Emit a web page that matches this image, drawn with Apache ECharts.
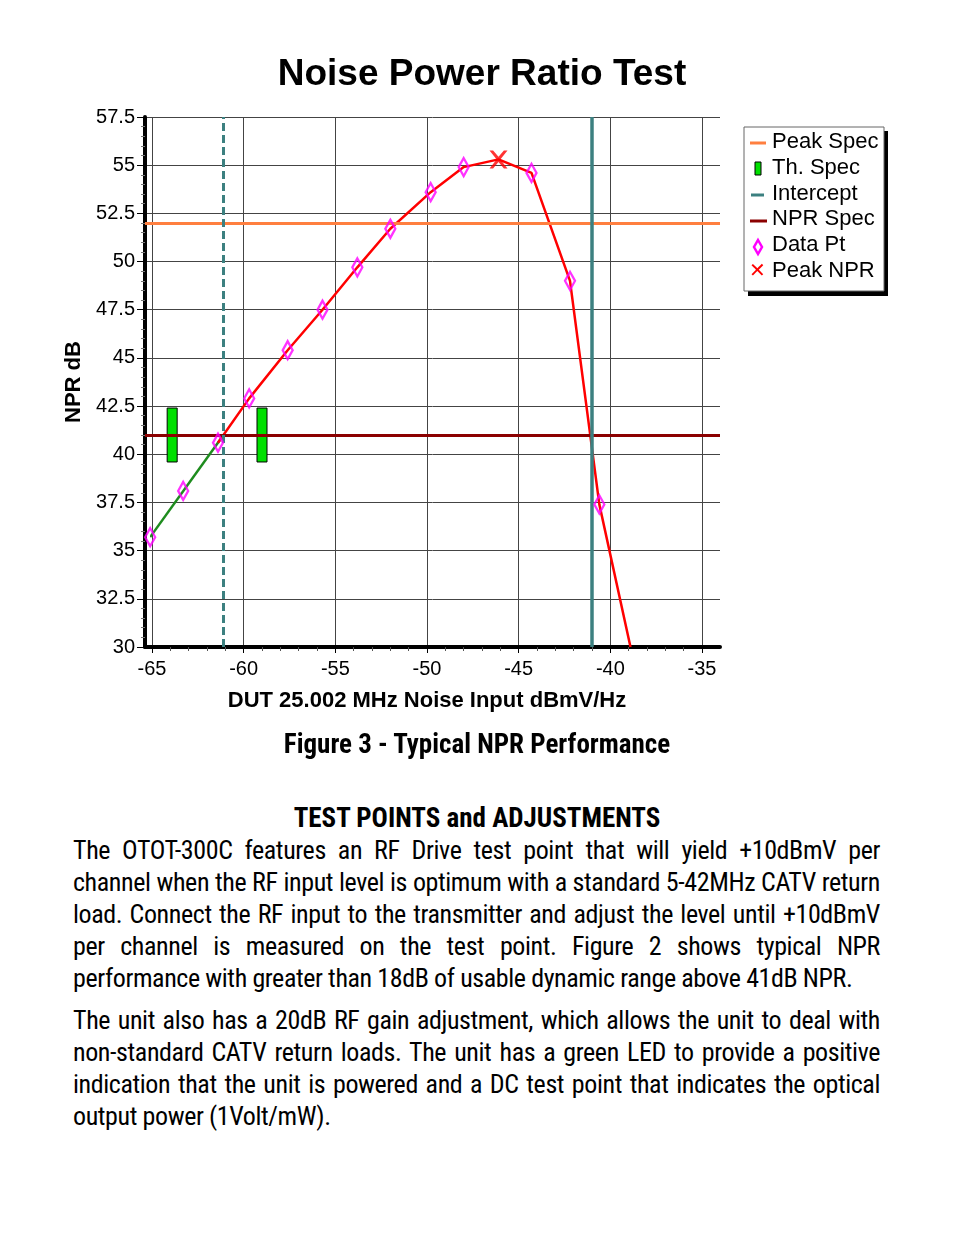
<!DOCTYPE html>
<html><head><meta charset="utf-8">
<script src="https://cdn.jsdelivr.net/npm/echarts@6/dist/echarts.min.js"></script>
<style>
body{margin:0;background:#fff;width:954px;height:1235px;position:relative;overflow:hidden}
#c{position:absolute;left:0;top:0;width:954px;height:770px}
.t{position:absolute;font-family:"Liberation Sans Narrow","Roboto Condensed","Liberation Sans",sans-serif;color:#000;white-space:nowrap}
.l{position:absolute;left:73px;width:807px;font-family:"Liberation Sans Narrow","Roboto Condensed","Liberation Sans",sans-serif;font-size:26px;line-height:32px;text-align:justify;text-align-last:justify;white-space:nowrap;letter-spacing:-0.4px}
.l.e{text-align-last:left}
</style></head><body>
<div id="c"></div>
<div class="t" style="left:0;width:954px;top:728px;text-align:center;font-size:27px;font-weight:bold">Figure 3 - Typical NPR Performance</div>
<div class="t" style="left:0;width:954px;top:802px;text-align:center;font-size:27px;font-weight:bold">TEST POINTS and ADJUSTMENTS</div>
<div class="l" style="top:834px">The OTOT-300C features an RF Drive test point that will yield +10dBmV per</div>
<div class="l" style="top:866px">channel when the RF input level is optimum with a standard 5-42MHz CATV return</div>
<div class="l" style="top:898px">load. Connect the RF input to the transmitter and adjust the level until +10dBmV</div>
<div class="l" style="top:930px">per channel is measured on the test point. Figure 2 shows typical NPR</div>
<div class="l e" style="top:962px">performance with greater than 18dB of usable dynamic range above 41dB NPR.</div>
<div class="l" style="top:1004px">The unit also has a 20dB RF gain adjustment, which allows the unit to deal with</div>
<div class="l" style="top:1036px">non-standard CATV return loads. The unit has a green LED to provide a positive</div>
<div class="l" style="top:1068px">indication that the unit is powered and a DC test point that indicates the optical</div>
<div class="l e" style="top:1100px">output power (1Volt/mW).</div>
<script>
const dataX = [-65.1,-63.3,-61.4,-59.7,-57.6,-55.7,-53.8,-52.0,-49.8,-48.0,-44.3,-42.2,-40.6];
const dataY = [35.7,38.1,40.6,42.9,45.4,47.5,49.7,51.7,53.6,54.9,54.6,49.0,37.4];
const peak = [-46.1,55.3];
const intercept = [-61.1,41.0];
const lineEnd = [-38.9,30.0];
const peakSpec = 52.0, nprSpec = 41.0, upperIntercept = -41.0;
const thSpec = [[-63.9,39.6,42.4],[-59.0,39.6,42.4]];
const xTicks = [-65,-35,5], yTicks=[30,57.5,2.5];
const legendNames = ['Peak Spec','Th. Spec','Intercept','NPR Spec','Data Pt','Peak NPR'];

const pts = dataX.map((x,i)=>[x,dataY[i]]);
const green = [pts[0], intercept];
const red = [intercept].concat(pts.slice(2,10),[peak],pts.slice(10),[lineEnd]);
const xPath='path://M0,0L2,0L5,3.5L8,0L10,0L6,5L10,10L8,10L5,6.5L2,10L0,10L4,5Z';
const chart = echarts.init(document.getElementById('c'));
const lab={fontFamily:'Liberation Sans',fontSize:20,color:'#000'};
chart.setOption({
 animation:false,
 title:{text:'Noise Power Ratio Test',left:477,textAlign:'center',top:51,textStyle:{fontFamily:'Liberation Sans',fontSize:37,fontWeight:'bold',color:'#000'}},
 grid:[{left:145,right:234,top:117,bottom:123},{left:152,width:550,top:117,bottom:123}],
 xAxis:[
  {gridIndex:0,type:'value',min:0,max:1,axisLine:{show:true,lineStyle:{color:'#000',width:4}},axisTick:{show:false},axisLabel:{show:false},splitLine:{show:false}},
  {gridIndex:1,type:'value',min:xTicks[0],max:xTicks[1],interval:xTicks[2],name:'DUT 25.002 MHz Noise Input dBmV/Hz',nameLocation:'middle',nameGap:43,
   nameTextStyle:{fontFamily:'Liberation Sans',fontSize:22,fontWeight:'bold',color:'#000'},
   axisLine:{show:false},axisTick:{show:true,length:6,lineStyle:{color:'#000'}},minorTick:{show:true,splitNumber:5,length:4,lineStyle:{color:'#555'}},
   axisLabel:{...lab,margin:12},splitLine:{show:true,lineStyle:{color:'#444',width:1}}}
 ],
 yAxis:[
  {gridIndex:0,type:'value',min:yTicks[0],max:yTicks[1],interval:yTicks[2],name:'NPR dB',nameLocation:'middle',nameGap:58,
   nameTextStyle:{fontFamily:'Liberation Sans',fontSize:22,fontWeight:'bold',color:'#000'},
   axisLine:{show:true,lineStyle:{color:'#000',width:4}},axisTick:{show:true,length:8,lineStyle:{color:'#000'}},
   minorTick:{show:true,splitNumber:5,length:4,lineStyle:{color:'#777'}},
   axisLabel:{...lab,margin:10},splitLine:{show:true,lineStyle:{color:'#444',width:1}}},
  {gridIndex:1,type:'value',min:yTicks[0],max:yTicks[1],show:false}
 ],
 series:[
  {type:'line',xAxisIndex:0,yAxisIndex:0,data:[],symbol:'none',
   markLine:{silent:true,symbol:'none',label:{show:false},data:[
    {yAxis:peakSpec,lineStyle:{color:'#ff7f3f',width:3,type:'solid'}},
    {yAxis:nprSpec,lineStyle:{color:'#8b0000',width:3,type:'solid'}}]}},
  {type:'line',xAxisIndex:1,yAxisIndex:1,data:[],symbol:'none',
   markLine:{silent:true,symbol:'none',label:{show:false},data:[
    {xAxis:intercept[0],lineStyle:{color:'#3c8080',width:3,type:[8,4]}},
    {xAxis:upperIntercept,lineStyle:{color:'#3c8080',width:3.5,type:'solid'}}]}},
  {type:'custom',xAxisIndex:1,yAxisIndex:1,data:thSpec,clip:false,
   renderItem:(p,api)=>{const a=api.coord([api.value(0),api.value(2)]),b=api.coord([api.value(0),api.value(1)]);
    return {type:'rect',shape:{x:a[0]-5,y:a[1],width:10,height:b[1]-a[1]},style:{fill:'#00e000',stroke:'#000',lineWidth:1}};}},
  {type:'line',xAxisIndex:1,yAxisIndex:1,data:green,symbol:'none',clip:false,lineStyle:{color:'#1e8c1e',width:2.5}},
  {type:'line',xAxisIndex:1,yAxisIndex:1,data:red,symbol:'none',clip:false,lineStyle:{color:'#ff0000',width:2.5}},
  {type:'scatter',xAxisIndex:1,yAxisIndex:1,data:pts,symbol:'diamond',symbolSize:[10,18],clip:false,itemStyle:{color:'rgba(0,0,0,0)',borderColor:'#ff00ff',borderWidth:2.5},z:5},
  {type:'scatter',xAxisIndex:1,yAxisIndex:1,data:[peak],symbol:xPath,symbolSize:18,clip:false,itemStyle:{color:'#ff0000'},z:6}
 ],
 graphic:[
  {type:'rect',shape:{x:748,y:131,width:140,height:165},style:{fill:'#000'},z:10},
  {type:'rect',shape:{x:744,y:127,width:140,height:164},style:{fill:'#fff',stroke:'#666',lineWidth:1},z:11},
  {type:'line',shape:{x1:750,y1:143,x2:766,y2:143},style:{stroke:'#ff7f3f',lineWidth:3},z:12},
  {type:'rect',shape:{x:755,y:162,width:6,height:13},style:{fill:'#00e000',stroke:'#000',lineWidth:1},z:12},
  {type:'line',shape:{x1:751,y1:195,x2:764,y2:195},style:{stroke:'#3c8080',lineWidth:3},z:12},
  {type:'line',shape:{x1:750,y1:221,x2:767,y2:221},style:{stroke:'#8b0000',lineWidth:3},z:12},
  {type:'polygon',shape:{points:[[758,240],[762,247],[758,254],[754,247]]},style:{fill:'none',stroke:'#ff00ff',lineWidth:2.5},z:12},
  {type:'text',style:{text:'✕',x:749,y:262,font:'bold 20px DejaVu Sans',fill:'#ff0000'},z:12},
  ...legendNames.map((t,i)=>({type:'text',z:12,style:{text:t,x:772,y:131+i*25.8,font:'22px Liberation Sans',fill:'#000'}}))
 ]
});
</script></body></html>
